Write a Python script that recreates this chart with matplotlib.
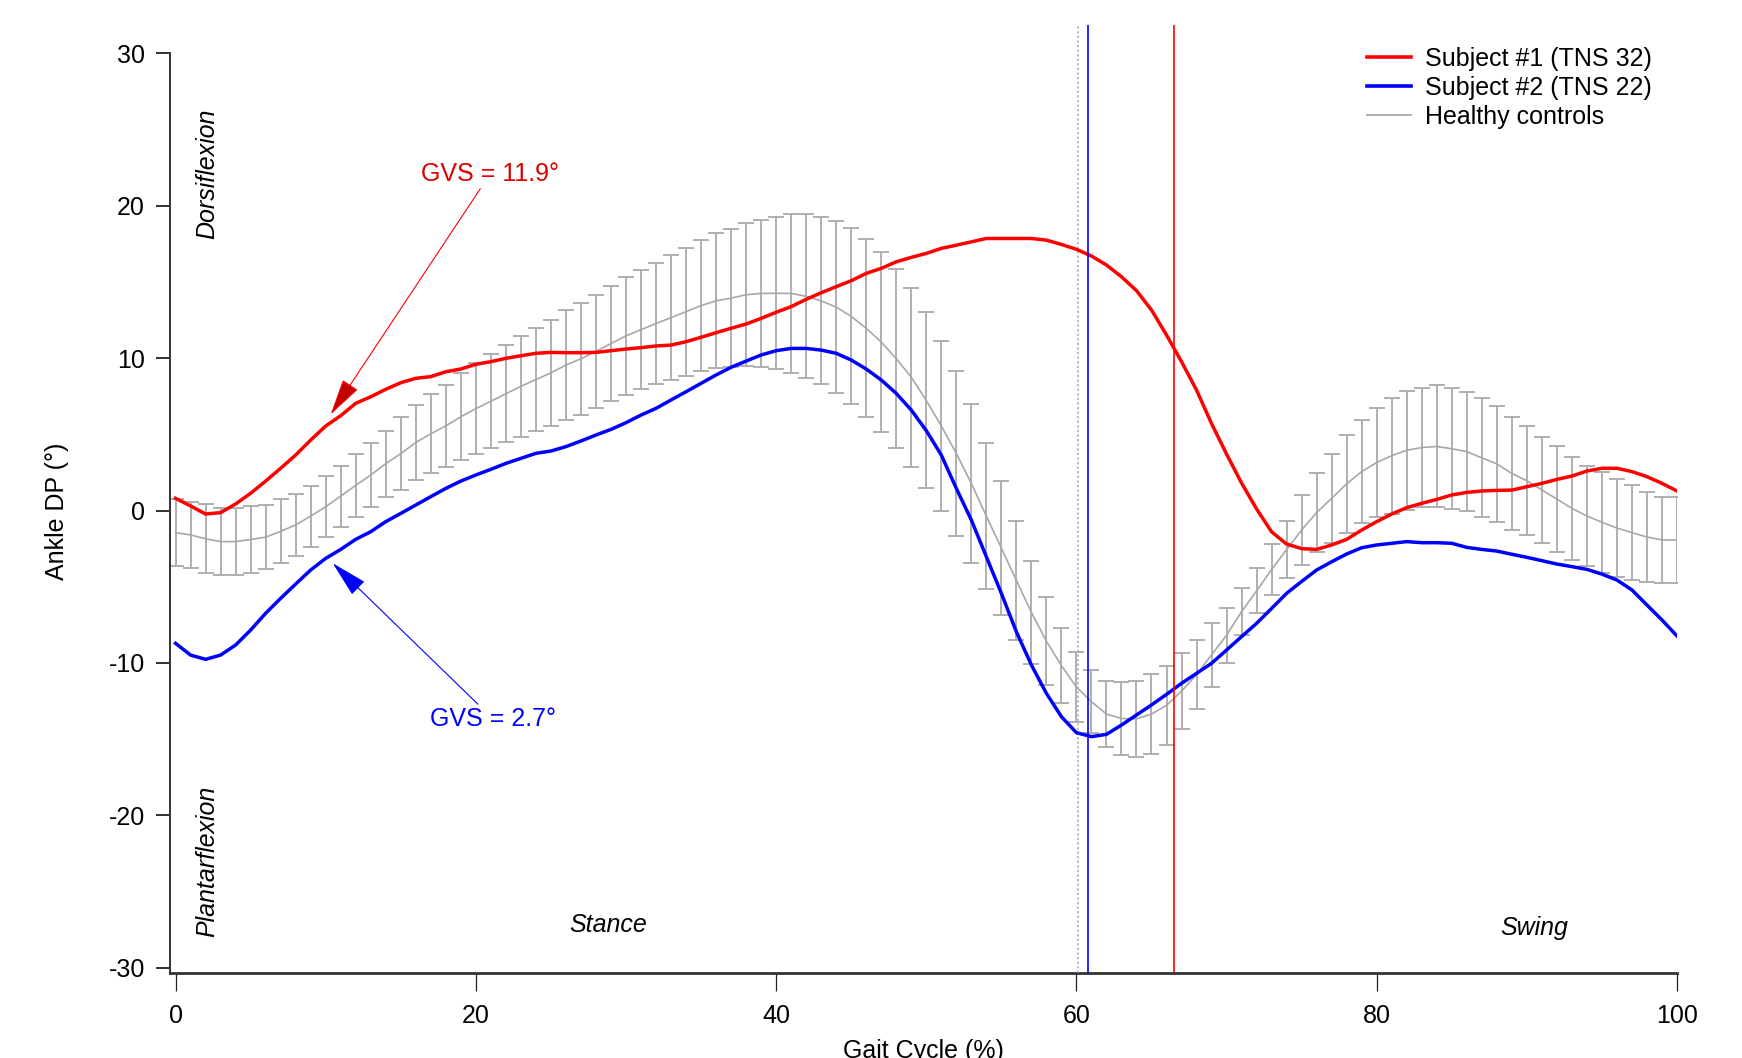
import numpy as np
import matplotlib
matplotlib.use("Agg")
import matplotlib.pyplot as plt
from matplotlib.lines import Line2D

plt.rcParams['font.family'] = ['Liberation Sans', 'DejaVu Sans']
plt.rcParams['axes.unicode_minus'] = False

# gait cycle, percent
gait = np.arange(0, 101)

# healthy controls: mean and SD (deg)
ctrl_mean = [-1.45, -1.6, -1.85, -2.04, -2.04, -1.9, -1.75, -1.37, -0.94, -0.37,
             0.25, 0.94, 1.65, 2.33, 3.07, 3.73, 4.46, 5.03, 5.55, 6.15,
             6.68, 7.17, 7.66, 8.14, 8.59, 9.03, 9.54, 9.95, 10.44, 10.95,
             11.45, 11.86, 12.26, 12.65, 13.04, 13.44, 13.75, 13.93, 14.15, 14.24,
             14.24, 14.24, 14.05, 13.75, 13.34, 12.73, 11.95, 11.05, 9.96, 8.74,
             7.22, 5.55, 3.74, 1.78, -0.37, -2.46, -4.58, -6.68, -8.57, -10.17,
             -11.58, -12.54, -13.35, -13.64, -13.66, -13.35, -12.78, -11.85, -10.77, -9.46,
             -8.18, -6.63, -5.27, -3.87, -2.56, -1.28, -0.13, 0.8, 1.75, 2.55,
             3.15, 3.6, 3.95, 4.13, 4.2, 4.05, 3.86, 3.45, 3.06, 2.43,
             1.95, 1.35, 0.75, 0.14, -0.36, -0.77, -1.15, -1.45, -1.74, -1.93,
             -1.93]
ctrl_sd = [2.18, 2.18, 2.27, 2.18, 2.18, 2.2, 2.1, 2.1, 2.02, 2.0,
           2.01, 2.0, 2.05, 2.07, 2.16, 2.38, 2.46, 2.59, 2.68, 2.84,
           2.97, 3.09, 3.19, 3.3, 3.36, 3.48, 3.61, 3.68, 3.7, 3.77,
           3.88, 3.91, 3.99, 4.09, 4.2, 4.3, 4.43, 4.5, 4.68, 4.8,
           4.98, 5.2, 5.38, 5.47, 5.66, 5.77, 5.85, 5.88, 5.88, 5.87,
           5.77, 5.58, 5.39, 5.2, 4.77, 4.39, 3.91, 3.39, 2.88, 2.48,
           2.27, 2.08, 2.17, 2.41, 2.48, 2.61, 2.6, 2.48, 2.27, 2.1,
           1.8, 1.53, 1.47, 1.67, 1.89, 2.3, 2.57, 2.9, 3.2, 3.4,
           3.6, 3.8, 3.9, 3.93, 4.0, 3.97, 3.89, 3.9, 3.8, 3.7,
           3.58, 3.5, 3.48, 3.39, 3.28, 3.3, 3.2, 3.1, 2.97, 2.8,
           2.8]

# subject #1 (TNS 32)
subj1 = [0.8, 0.3, -0.23, -0.14, 0.43, 1.13, 1.93, 2.77, 3.64, 4.62,
         5.54, 6.22, 7.03, 7.46, 7.95, 8.38, 8.67, 8.78, 9.1, 9.28,
         9.59, 9.76, 9.98, 10.15, 10.31, 10.37, 10.35, 10.35, 10.37, 10.48,
         10.59, 10.68, 10.79, 10.85, 11.07, 11.36, 11.66, 11.95, 12.23, 12.6,
         13.0, 13.37, 13.85, 14.28, 14.68, 15.07, 15.55, 15.88, 16.31, 16.6,
         16.86, 17.19, 17.4, 17.62, 17.84, 17.84, 17.84, 17.84, 17.73, 17.45,
         17.13, 16.69, 16.1, 15.33, 14.42, 13.15, 11.51, 9.76, 7.9, 5.7,
         3.7, 1.8, 0.1, -1.4, -2.2, -2.5, -2.55, -2.26, -1.89, -1.28,
         -0.73, -0.23, 0.19, 0.47, 0.73, 1.02, 1.19, 1.28, 1.32, 1.34,
         1.56, 1.78, 2.04, 2.26, 2.59, 2.77, 2.77, 2.55, 2.22, 1.78,
         1.28]

# subject #2 (TNS 22)
subj2 = [-8.71, -9.48, -9.76, -9.48, -8.82, -7.84, -6.74, -5.76, -4.82, -3.9,
         -3.14, -2.55, -1.89, -1.39, -0.73, -0.19, 0.36, 0.91, 1.45, 1.93,
         2.33, 2.7, 3.09, 3.42, 3.75, 3.9, 4.19, 4.56, 4.95, 5.32,
         5.76, 6.26, 6.7, 7.25, 7.79, 8.34, 8.89, 9.39, 9.8, 10.2,
         10.48, 10.63, 10.63, 10.52, 10.31, 9.87, 9.28, 8.56, 7.68, 6.59,
         5.24, 3.64, 1.45, -0.62, -3.03, -5.43, -7.95, -10.13, -11.99, -13.52,
         -14.57, -14.83, -14.68, -14.07, -13.41, -12.75, -12.06, -11.33, -10.68, -10.02,
         -9.15, -8.27, -7.4, -6.42, -5.43, -4.65, -3.9, -3.36, -2.85, -2.44,
         -2.26, -2.15, -2.04, -2.11, -2.11, -2.15, -2.42, -2.55, -2.66, -2.87,
         -3.07, -3.29, -3.51, -3.68, -3.86, -4.17, -4.56, -5.21, -6.2, -7.18,
         -8.23]

# toe-off events (% gait cycle)
toeoff_ctrl = 60.1
toeoff_s2 = 60.8
toeoff_s1 = 66.5

xticks = [0, 20, 40, 60, 80, 100]
yticks = [-30, -20, -10, 0, 10, 20, 30]

fig = plt.figure(figsize=(17.42, 10.58), dpi=100)
ax = fig.add_axes([170 / 1742, 1 - 973 / 1058, (1677 - 170) / 1742, (973 - 25) / 1058])

gray = '#afafaf'
ax.errorbar(gait, ctrl_mean, yerr=ctrl_sd, color='#a8a8a8', lw=1.2,
            ecolor=gray, elinewidth=1.4, capsize=6, capthick=1.4, zorder=2)
ax.plot(gait, subj1, color='#ff0000', lw=2.5, zorder=4)
ax.plot(gait, subj2, color='#0000ff', lw=2.5, zorder=4)

ax.axvline(toeoff_ctrl, color='#aaaaaa', lw=1.1, ls=(0, (1.5, 1.5)), zorder=3)
ax.axvline(toeoff_s2, color='#0000ff', lw=1.2, zorder=5)
ax.axvline(toeoff_s1, color='#ff0000', lw=1.2, zorder=5)

# GVS annotations
ax.annotate('GVS = 11.9°', xy=(10.33, 6.3), xytext=(20.95, 22.07),
            color='#dd0000', fontsize=18, ha='center', va='center',
            arrowprops=dict(arrowstyle='-|>,head_length=1.3,head_width=0.32',
                            color='#ff0000', lw=0.8, fc='#c00000',
                            shrinkA=0, shrinkB=0, mutation_scale=18), zorder=6)
ax.annotate('GVS = 2.7°', xy=(10.47, -3.46), xytext=(21.15, -13.67),
            color='#0000ff', fontsize=18, ha='center', va='center',
            arrowprops=dict(arrowstyle='-|>,head_length=1.3,head_width=0.32',
                            color='#0000ff', lw=0.8, fc='#0000ff',
                            shrinkA=0, shrinkB=0, mutation_scale=18), zorder=6)

ax.text(2.08, 22.07, 'Dorsiflexion', rotation=90, style='italic', fontsize=18,
        ha='center', va='center')
ax.text(2.08, -22.98, 'Plantarflexion', rotation=90, style='italic', fontsize=18,
        ha='center', va='center')
ax.text(28.8, -27.2, 'Stance', style='italic', fontsize=18, ha='center', va='center')
ax.text(90.5, -27.36, 'Swing', style='italic', fontsize=18, ha='center', va='center')

ax.set_xlim(-0.37, 100)
ax.set_ylim(-30.33, 31.84)
ax.set_xticks(xticks)
ax.set_yticks(yticks)
ax.tick_params(axis='both', labelsize=18, colors='black')
ax.tick_params(axis='y', length=10, width=1.3, pad=8, color='#222222')
ax.tick_params(axis='x', length=13, width=0.9, pad=9, color='#222222')

for s in ['top', 'right']:
    ax.spines[s].set_visible(False)
ax.spines['left'].set_bounds(-30.33, 30)
ax.spines['left'].set_linewidth(1.4)
ax.spines['left'].set_color('#333333')
ax.spines['bottom'].set_linewidth(2.0)
ax.spines['bottom'].set_color('#333333')

ax.set_xlabel('Gait Cycle (%)', fontsize=18)
ax.xaxis.set_label_coords(0.5, -0.0696)
ax.set_ylabel('Ankle DP (°)', fontsize=18)
ax.yaxis.set_label_coords(-0.067, 0.4875)

handles = [Line2D([], [], color='#ff0000', lw=2.6),
           Line2D([], [], color='#0000ff', lw=2.6),
           Line2D([], [], color='#a8a8a8', lw=1.3)]
labels = ['Subject #1 (TNS 32)', 'Subject #2 (TNS 22)', 'Healthy controls']
fig.legend(handles, labels, loc='upper left', bbox_to_anchor=(1367 / 1742, 1 - 47 / 1058),
           frameon=False, fontsize=18, handlelength=1.75, handletextpad=0.55,
           labelspacing=0.2, borderpad=0, borderaxespad=0)

fig.savefig('out.png', dpi=100)
